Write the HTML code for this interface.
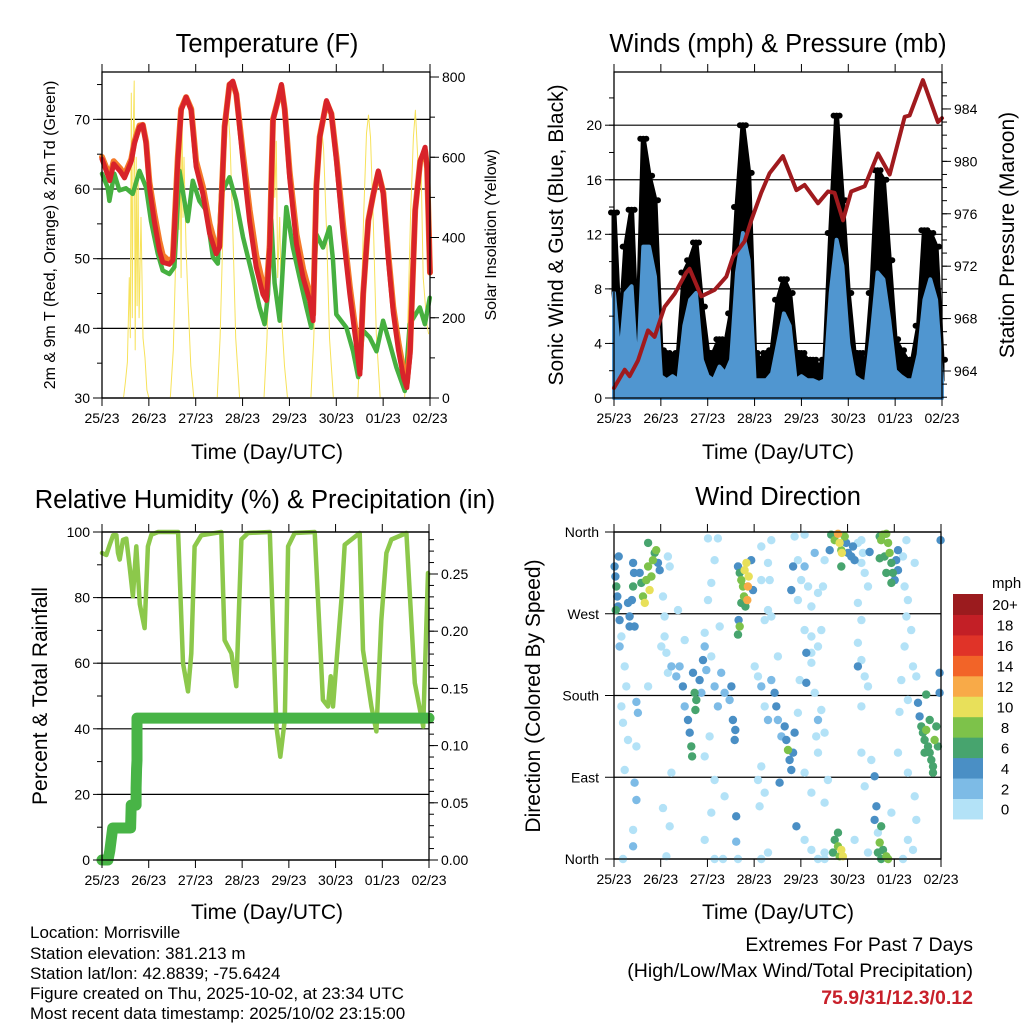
<!DOCTYPE html>
<html><head><meta charset="utf-8"><style>
html,body{margin:0;padding:0;background:#fff;}
svg{display:block;font-family:"Liberation Sans",Arial,sans-serif;}
</style></head><body>
<svg id="fig" width="1024" height="1024" viewBox="0 0 1024 1024" xmlns="http://www.w3.org/2000/svg">
<rect width="1024" height="1024" fill="#fff"/>
<g font-size="25.5" text-anchor="middle" fill="#000">
<text x="267" y="52">Temperature (F)</text>
<text x="778" y="52">Winds (mph) &amp; Pressure (mb)</text>
<text x="265" y="508">Relative Humidity (%) &amp; Precipitation (in)</text>
<text x="778" y="505">Wind Direction</text>
</g>
<g font-size="21" text-anchor="middle" fill="#000">
<text x="267" y="459">Time (Day/UTC)</text>
<text x="778" y="459">Time (Day/UTC)</text>
<text x="267" y="919">Time (Day/UTC)</text>
<text x="778" y="919">Time (Day/UTC)</text>
<text transform="translate(563,235) rotate(-90)">Sonic Wind &amp; Gust (Blue, Black)</text>
<text transform="translate(1014,235) rotate(-90)">Station Pressure (Maroon)</text>
<text transform="translate(47,696) rotate(-90)">Percent &amp; Total Rainfall</text>
<text transform="translate(540,696) rotate(-90)">Direction (Colored By Speed)</text>
</g>
<g font-size="16" text-anchor="middle" fill="#000">
<text transform="translate(55,235) rotate(-90)">2m &amp; 9m T (Red, Orange) &amp; 2m Td (Green)</text>
<text transform="translate(496,235) rotate(-90)">Solar Insolation (Yellow)</text>
</g>
<g font-size="17" fill="#000">
<text x="30" y="938">Location: Morrisville</text>
<text x="30" y="959">Station elevation: 381.213 m</text>
<text x="30" y="979">Station lat/lon: 42.8839; -75.6424</text>
<text x="30" y="999">Figure created on Thu, 2025-10-02, at 23:34 UTC</text>
<text x="30" y="1019">Most recent data timestamp: 2025/10/02 23:15:00</text>
</g>
<g font-size="19.5" text-anchor="end" fill="#000">
<text x="973" y="951">Extremes For Past 7 Days</text>
<text x="973" y="977">(High/Low/Max Wind/Total Precipitation)</text>
<text x="973" y="1004" font-weight="bold" fill="#c8202a">75.9/31/12.3/0.12</text>
</g>
<g id="layer"></g>
</svg>
<script>
// ---------- DATA ----------
const dayLabels = ["25/23","26/23","27/23","28/23","29/23","30/23","01/23","02/23"];
const tempLeftTicks = [30,40,50,60,70];
const solarTicks = [0,200,400,600,800];
const windTicks = [0,4,8,12,16,20];
const pressTicks = [964,968,972,976,980,984];
const rhTicks = [0,20,40,60,80,100];
const precipTicks = [0,0.05,0.10,0.15,0.20,0.25];
const precipTickLabels = ["0.00","0.05","0.10","0.15","0.20","0.25"];
const dirTicks = [0,90,180,270,360];
const dirTickLabels = ["North","East","South","West","North"];

const redHours = [0,4,6,9.5,11.5,13,15,16.6,19.2,20.9,22.6,24.3,26.8,29.4,31.1,34.5,36.3,38.8,40.5,43.1,45.7,48.2,51.7,55.1,58.5,60.2,62.8,65.3,67,68.8,72.2,75.6,79,82.4,84.2,85.9,87.6,90.1,91.9,93.6,96.1,99.6,103,106.4,108.1,109.8,111.5,115,117.5,120.1,123.5,126.9,130.4,132.1,133.8,136.4,139,141.5,144.1,146.7,149.2,151.8,154.4,156.1,157.8,160.4,163,165.5,166.5,168];
const redTemps = [64.3,61.2,63.6,62.5,61.6,62.6,64,66.5,68.9,69.2,66.5,60.3,55.4,51.2,49.5,49.2,49.8,64,71.3,73.2,71.3,63.2,59.3,53.6,50.7,51.6,68.9,75,75.5,73.6,64,55.4,48.8,44.9,44,51.6,69.9,72.7,75,71.3,61.7,52.1,47.3,44,41.1,60.3,67.4,72.7,70.8,64,53.6,44.9,37.3,33.4,44.9,55.4,59.3,62.6,59.3,49.8,42.2,36.9,33,31.5,36.3,56.9,64,66,63,48];
const orangeTemps = [64.6,61.8,64,62.9,62,63,64.3,66.8,69.1,69.2,66.8,61,56.5,52.5,50.5,49.6,50.2,64.5,71.5,73.2,71.5,64,60.3,55,51.5,51.8,69,75,75.3,73.6,65,57,50.5,46.3,45.2,52,70,72.7,74.8,71.5,62.5,53.5,48.5,45,42,60.5,67.5,72.5,70.8,64.5,54.8,46,38.5,34.2,45,55.5,59.3,62.4,59.5,50.5,43,38,34,32.2,37,57,64,65.5,63,48];
const dewHours = [0,2.9,3.8,6.3,8.9,12.3,15.7,19.2,22.6,25.1,28.6,31.1,34.5,37.1,39.7,43.9,46.5,49.9,53.4,56.8,59.3,61,65.3,68.7,72.2,77.3,80.7,83.3,85,86.7,88.4,91,94.4,97.8,101.2,104.7,107.2,109.8,113.2,116.6,118.3,120,125.2,128.6,131.2,133.7,137.1,140.6,144,147.4,150.8,155.1,157.6,162.8,165.4,167.9];
const dewTemps = [62.2,60.2,58.3,62.2,59.8,60.1,59.3,62.6,60.2,55.4,50.7,48.3,47.8,48.8,62.6,55.4,61.2,58.3,56.9,50.2,49.3,59.3,61.7,58.3,53.1,47.3,43.0,40.6,44.9,55.6,46.5,41.1,57.4,51.6,47.3,43.0,40.1,53.5,51.6,54.5,49.8,42.0,40.1,36.7,33.0,39.7,38.7,36.7,41.1,37.8,34.4,31.0,40.6,43.0,40.6,44.4];
const solarHours = [0,11,12,13,14,14.5,15,15.5,16,16.5,17,17.5,18,18.5,19,20,21,22,23,24,35,36.5,37.5,38.5,39.5,40,40.5,41,41.5,42,43,44,45.5,47,59,60.5,62,63.5,64.5,65.5,67,68.5,70.5,83,84.5,86,87,88,88.5,89.3,90,91,92,93.5,95,107,108.5,110,111.5,112.5,113.5,115,116.5,118.5,131,132.5,134,135.5,136.5,137.5,139,140.5,142.5,155,156.5,158,159.5,160.5,161.5,162.5,163.5,164.5,165.5,166.5,167.3];
const solarValues = [0,0,40,90,300,150,760,200,650,790,120,600,230,560,200,450,150,100,20,0,0,120,300,560,420,650,300,720,450,600,380,250,80,0,0,150,420,620,717,650,420,150,0,0,150,430,600,690,500,640,300,450,200,80,0,0,150,420,620,675,620,420,150,0,0,170,450,660,705,650,430,160,0,0,160,450,650,717,620,520,560,300,240,180,160];

const windHours = [0,3,6,9,12,15,18,21,24,27,30,33,36,39,42,45,48,51,54,57,60,63,66,69,72,75,78,81,84,87,90,93,96,99,102,105,108,111,114,117,120,123,126,129,132,135,138,141,144,147,150,153,156,159,162,165,168];
const gustSpeeds = [13.6,4.3,11.1,13.8,3.3,19,16.3,14.5,3.5,3.3,3.1,3.3,9.2,10.1,11.4,6.7,3.3,3.3,4.3,3.8,6.2,14,20,16.5,3.3,2.8,3.3,3.5,7.2,8.7,7.7,3.3,3.3,2.8,2.8,2.3,2.8,12.1,20.7,14.5,7.7,3.3,3.3,2.3,7.7,16.7,16,10.1,4.3,3.5,2.8,2.8,5.3,12.3,12.1,11.1,2.8];
const windSpeeds = [7.7,2.8,7.7,8.2,1.3,11.1,11.1,8.9,1.6,1.3,1.6,1.3,5.3,7.2,7.7,2.8,1.6,1.3,2.3,1.8,2.8,9.2,12.1,10.1,1.3,1.3,1.3,1.8,4,6.2,5.3,1.3,1.6,1.3,1.3,1.1,1.3,7.7,11.6,9.7,4,1.6,1.3,1.1,4.7,9.2,8.7,5.7,2,1.6,1.3,1.3,3.2,7.2,8.7,7.2,1.3];
const pressHours = [0,5.5,8,12.3,17.4,20.8,25.9,31.1,37,38.7,44.7,51.6,57.5,60.9,66.9,70.3,75.4,79.7,86.5,93.4,97.6,104.5,109.6,113,117.3,121.5,128.4,135.2,141.2,148.9,151.4,158.2,165.9,168];
const pressValues = [962.7,964.1,963.6,964.8,967.1,966.6,968.9,969.9,971.5,971.8,969.7,970.2,971.2,972.7,973.9,975.5,977.6,979.1,980.4,977.8,978.2,976.8,977.7,977.6,975.5,977.7,978.1,980.6,979,983.4,983.5,986.2,983,983.3];

const rhHours = [0,2.2,3.9,5.7,7.4,8.2,9.1,10.8,12.5,14.2,15.9,17.6,19.4,21.9,23.6,25.4,28.8,39.1,41.6,44.2,45.9,47.6,51,61.3,63,66.5,69,71.6,75,86.2,89.6,91.6,93.9,95.6,99,109.3,113.5,116.1,117.5,118.7,123,124.7,132.4,134.1,138.4,141,143.5,146.1,148.7,156.4,160.7,165,167.5];
const rhValues = [93.6,93,96,99,99,93.6,91.6,97.6,98,89.5,80.4,95.6,78,70.7,95.6,99.2,100,100,60,51.4,63,95.6,99,100,67,63,53,97.7,99.7,100,40.7,31.5,42.7,95.6,99.7,100,48.8,46.8,56,46.8,79.3,96.1,99.7,64,46.8,39.2,73,93.6,97.7,99.7,54,40.7,87.5];
const precipHours = [0,3.1,4,5.5,14.7,15,17.5,17.5,17.8,18,18,168];
const precipTotals = [0,0,0.008,0.028,0.028,0.048,0.048,0.063,0.08,0.087,0.124,0.124];

const speedBins = [0,2,4,6,8,10,12,14,16,18,20];
const speedBinLabels = ["0","2","4","6","8","10","12","14","16","18","20+"];
const speedColors = ["#b3e2f7","#7dbbe6","#4a8fc5","#47a46e","#7dc24a","#e8e05a","#f8aa48","#f26428","#e03328","#c31f26","#9b1b1e"];
// observations: [hour, direction degrees, speed mph]
const dirObs = [
[0.3,322,4],[0.7,311,4],[1.2,300,6],[1.7,289,4],[2.1,278,4],[0.9,274,6],[2.4,333,4],[2.9,263,4],[7.2,282,4],[8,267,4],[8,256,4],[9.8,326,4],[9.8,300,6],[9.2,285,4],[10.6,256,4],[10.3,315,4],
[13.2,315,4],[14,304,6],[14.9,289,8],[15.8,282,10],[16.6,307,8],[17.5,322,8],[18.3,296,10],[19.2,311,8],[20,329,8],[20.9,337,6],[21.7,340,8],[22.6,326,4],[23.5,318,4],[17.5,348,6],[28.6,322,0],[27.7,333,0],[25.2,289,0],[26,267,0],[32.9,274,0],
[3.8,245,0],[2.9,234,2],[5.5,212,0],[6.3,190,0],[3.8,168,0],[4.6,150,0],[11.5,173,2],[12.3,161,2],[7.2,131,0],[11.5,124,0],[5.5,98,0],[10.6,84,2],[11.5,65,2],[9.8,14,2],[9.8,32,0],[4.6,0,0],[17.5,190,0],[26,245,0],[24.3,234,0],[29.5,212,2],[27.7,205,0],[29.5,95,0],[25.2,56,0],[28.6,36,0],[26.9,3,0],
[32,201,2],[33.7,212,2],[35.4,190,4],[36.3,168,2],[38,153,4],[38.9,139,4],[39.7,124,6],[40.1,113,6],[41.4,183,6],[42.3,175,6],[41.8,164,6],[40.6,205,4],[44,197,4],[45.7,219,4],[46.6,234,2],[44.9,183,2],[47.4,208,2],[50,223,0],[51.7,190,2],[53.4,168,2],[55.1,205,2],[56.8,183,2],[59.4,175,2],[60.3,190,4],[61.1,153,4],[62.3,142,4],[62,131,4],
[49.1,135,0],[46.6,113,0],[51.7,87,0],[56.8,69,0],[51.7,0,0],[56,0,0],[46.6,21,0],[50,51,0],[36.3,241,0],[26.9,227,0],[48.3,353,0],[53.4,353,0],[51.7,329,0],[50,304,0],[48.3,285,0],[54.3,256,0],[46.6,249,0],
[63.7,322,4],[64.6,315,6],[65.4,307,8],[66.3,300,8],[67.1,318,10],[68,326,10],[68.8,300,12],[68.5,285,12],[69.2,311,10],[66.8,289,8],[67.5,278,6],[65.4,282,6],[64,263,4],[64.6,256,8],[63.7,247,6],[70.5,329,4],[71.4,296,4],[62.8,47,4],[62.8,19,2],[63.7,0,0],
[72.3,212,0],[74,201,0],[75.7,190,2],[77.4,168,0],[79.1,153,2],[80.8,197,2],[82.5,183,4],[83.4,168,4],[84.2,153,2],[86,135,2],[87.7,146,4],[88.5,131,4],[89.4,120,8],[90.2,109,4],[91.1,98,4],[92,117,4],[92.8,139,4],[85.1,84,4],
[75.7,102,0],[74,87,0],[77.4,73,0],[74.8,58,0],[79.1,7,0],[75.7,0,0],[77.4,263,0],[80.8,267,0],[75.7,344,0],[79.1,326,0],[80.8,351,0],[75.7,307,0],[80,307,0],[79.1,274,0],[84.2,223,0],
[92.8,355,0],[97.9,357,0],[94.5,329,0],[97.9,322,2],[96.2,307,0],[99.7,300,0],[92,322,4],[91.1,296,4],[94.5,285,0],[101.4,278,0],[104.8,293,0],[107.4,300,0],[108.2,329,0],[103.1,337,2],[97.9,252,0],[101.4,245,0],[106.5,252,0],[104.8,234,0],[101.4,227,0],[98.8,227,4],[95.4,197,0],[98.8,194,4],[101.4,216,0],[103.1,183,0],[104.8,153,2],[103.9,135,0],[106.5,164,0],[108.2,139,0],[94.5,161,0],[104.8,117,0],[97.9,95,0],[101.4,73,0],[108.2,62,0],[109.9,87,0],[93.7,36,4],[97.9,21,0],[101.4,10,0],[104.8,0,0],[108.2,0,0],
[111.6,357,6],[113.4,351,8],[115.1,358,12],[115.9,348,10],[116.8,340,8],[117.1,337,10],[118.5,355,8],[119.3,348,4],[120.2,337,4],[121.9,333,4],[123.6,329,4],[122.8,344,4],[116.8,322,6],[110.8,340,4],[125.3,348,0],[127.1,351,0],[127.9,337,0],[128.8,315,0],[130.5,300,0],[131.3,338,4],[127.1,326,0],[125.3,282,0],[127.1,263,0],[125.3,238,0],[127.1,219,0],[128.8,201,0],[125.3,212,4],[130.5,190,0],[127.1,168,0],[127.1,117,0],[128.8,80,0],[132.2,109,0],[133.9,91,4],[134.8,58,4],[133.9,43,4],[135.6,29,0],[137.3,36,6],[136.5,18,8],[138.2,10,6],[139.9,3,8],[140.8,0,8],[137.3,0,6],[135.6,7,6],[113.4,21,6],[115.1,14,8],[115.9,3,8],[116.8,10,10],[117.6,3,10],[112.5,7,6],[115.1,29,6],[108.2,7,0],[123.6,21,0],[130.5,7,0],
[136.5,355,6],[138.2,357,8],[139.9,358,8],[140.8,348,8],[141.6,337,8],[139,333,6],[137.3,351,8],[142.5,326,6],[143.3,315,6],[144.2,307,4],[145,329,4],[145.9,340,4],[142.5,304,6],[139.9,315,6],[136.5,331,6],[145.9,318,4],[148.5,333,0],[150.2,351,0],[154.5,326,0],[149.3,300,0],[151,285,0],[150.2,267,0],[152.7,252,0],[149.3,234,0],[153.6,212,0],[147.6,197,0],[155.3,201,0],[151,175,0],[146.7,162,0],[145.9,117,0],[151,95,0],[154.5,69,0],[155.3,43,0],[153.6,10,0],[148.5,0,0],[151,21,0],[142.5,51,0],
[156.2,172,4],[157,157,4],[157.9,146,6],[158.7,139,6],[159.6,131,6],[160.4,142,8],[161.3,124,6],[162.2,117,6],[163,109,6],[163.9,102,6],[164.7,131,8],[165.6,146,6],[166.4,124,6],[159.6,117,6],[162.2,153,6],[163.9,95,6],[160.4,181,6],[167.3,183,4],[167.3,205,4],[167.8,351,4]
];

// ---------- LAYOUT ----------
const NS = "http://www.w3.org/2000/svg";
const layer = document.getElementById("layer");
const P1 = {x0:102,x1:430,y0:72,y1:398};
const P2 = {x0:614,x1:942,y0:72,y1:398};
const P3 = {x0:102,x1:429,y0:532,y1:860};
const P4 = {x0:614,x1:941,y0:532,y1:859};
const HOURS = 168;
function xs(p,h){return p.x0 + h/HOURS*(p.x1-p.x0);}
function ys(p,v,lo,hi){return p.y1 - (v-lo)/(hi-lo)*(p.y1-p.y0);}
function node(tag,parent){const e=document.createElementNS(NS,tag);parent.appendChild(e);return e;}
function group(name){const g=node("g",layer);


return g;}
function pathFrom(p,hours,vals,lo,hi){return hours.map((h,i)=>(i?"L":"M")+xs(p,h).toFixed(1)+","+ys(p,vals[i],lo,hi).toFixed(1)).join("");}

const T_LO=30,T_HI=76.8,S_LO=0,S_HI=812.5,W_LO=0,W_HI=23.9,PR_LO=961.94,PR_HI=986.82,RH_LO=0,RH_HI=100,PC_LO=0,PC_HI=0.2867,D_LO=0,D_HI=360;

function grid(p,ticks,lo,hi,name){const g=group(name);
ticks.forEach(t=>{const y=ys(p,t,lo,hi);const l=node("line",g);


l.setAttribute("x1",p.x0);l.setAttribute("x2",p.x1);l.setAttribute("y1",y);l.setAttribute("y2",y);
l.setAttribute("stroke","#000");l.setAttribute("stroke-width","1.2");});}
grid(P1,tempLeftTicks,T_LO,T_HI,"temp-gridlines");
grid(P2,windTicks,W_LO,W_HI,"wind-gridlines");
grid(P3,rhTicks,RH_LO,RH_HI,"humidity-gridlines");
grid(P4,dirTicks,D_LO,D_HI,"direction-gridlines");

function line(g,d,color,w,name){const e=node("path",g);


e.setAttribute("d",d);e.setAttribute("fill","none");e.setAttribute("stroke",color);e.setAttribute("stroke-width",w);e.setAttribute("stroke-linejoin","round");e.setAttribute("stroke-linecap","round");return e;}
const gT=group("temperature-series");
line(gT,pathFrom(P1,solarHours,solarValues,S_LO,S_HI),"#f7e25a",1,"solar-insolation-line");
line(gT,pathFrom(P1,dewHours,dewTemps,T_LO,T_HI),"#46b040",4.5,"dewpoint-line");
line(gT,pathFrom(P1,redHours,orangeTemps,T_LO,T_HI),"#f47a2a",6,"temp-9m-line");
line(gT,pathFrom(P1,redHours,redTemps,T_LO,T_HI),"#d8232a",5,"temp-2m-line");

// ---- Panel 2 series ----
const gW=group("wind-series");
(function(){
  // black gust band between sustained wind and gust
  const top=windHours.map((h,i)=>xs(P2,h).toFixed(1)+","+ys(P2,gustSpeeds[i],W_LO,W_HI).toFixed(1));
  const bot=windHours.map((h,i)=>xs(P2,h).toFixed(1)+","+ys(P2,windSpeeds[i],W_LO,W_HI).toFixed(1)).reverse();
  const e=node("polygon",gW);
  
  
  e.setAttribute("points",top.concat(bot).join(" "));e.setAttribute("fill","#000");e.setAttribute("stroke","#000");e.setAttribute("stroke-width","5");e.setAttribute("stroke-linejoin","round");
  windHours.forEach((h,i)=>{[-3,0,3].forEach(dx=>{const c=node("circle",gW);
    
    
    c.setAttribute("cx",(xs(P2,h)+dx).toFixed(1));c.setAttribute("cy",ys(P2,gustSpeeds[i],W_LO,W_HI).toFixed(1));c.setAttribute("r","3");c.setAttribute("fill","#000");});});
  // blue sustained wind area
  const wtop=windHours.map((h,i)=>xs(P2,h).toFixed(1)+","+ys(P2,windSpeeds[i],W_LO,W_HI).toFixed(1));
  const b=node("polygon",gW);
  
  
  b.setAttribute("points",xs(P2,windHours[0])+","+ys(P2,0,W_LO,W_HI)+" "+wtop.join(" ")+" "+xs(P2,windHours[windHours.length-1])+","+ys(P2,0,W_LO,W_HI));
  b.setAttribute("fill","#5096d0");b.setAttribute("stroke","#5096d0");b.setAttribute("stroke-width","4");b.setAttribute("stroke-linejoin","round");
})();
line(gW,pathFrom(P2,pressHours,pressValues,PR_LO,PR_HI),"#a01a1e",4,"pressure-line");

// ---- Panel 3 series ----
const gR=group("humidity-series");
line(gR,pathFrom(P3,rhHours,rhValues,RH_LO,RH_HI),"#8cc84b",4.5,"relative-humidity-line");
line(gR,pathFrom(P3,precipHours,precipTotals,PC_LO,PC_HI),"#48b446",11,"precipitation-line");

// ---- Panel 4 scatter ----
const gD=group("wind-direction-scatter");
const sorted=dirObs.slice().sort((a,b)=>a[2]-b[2]);
sorted.forEach(o=>{const c=node("circle",gD);


let bi=0;speedBins.forEach((b,k)=>{if(o[2]>=b)bi=k;});
c.setAttribute("cx",xs(P4,o[0]).toFixed(1));c.setAttribute("cy",ys(P4,o[1],D_LO,D_HI).toFixed(1));c.setAttribute("r","4.2");c.setAttribute("fill",speedColors[bi]);});

// ---- frames, ticks, labels ----
function frame(p,name){const r=node("rect",layer);


r.setAttribute("x",p.x0);r.setAttribute("y",p.y0);r.setAttribute("width",p.x1-p.x0);r.setAttribute("height",p.y1-p.y0);r.setAttribute("fill","none");r.setAttribute("stroke","#000");r.setAttribute("stroke-width","1.3");}
function tick(g,x1,y1,x2,y2){const l=node("line",g);


l.setAttribute("x1",x1);l.setAttribute("y1",y1);l.setAttribute("x2",x2);l.setAttribute("y2",y2);l.setAttribute("stroke","#000");l.setAttribute("stroke-width","1");}
function label(g,x,y,txt,anchor,size,name){const t=node("text",g);


t.setAttribute("x",x);t.setAttribute("y",y);t.setAttribute("text-anchor",anchor);t.setAttribute("font-size",size);t.textContent=txt;}
function xAxis(p,name){const g=group(name);
dayLabels.forEach((d,i)=>{const x=xs(p,i*24);tick(g,x,p.y1,x,p.y1+8);tick(g,x,p.y0,x,p.y0-8);
label(g,x,p.y1+25,d,"middle",14,"x-tick-label");});}
function yAxis(p,ticks,labels,lo,hi,side,minorStep,name){const g=group(name);
const xe=side==="left"?p.x0:p.x1;const dir=side==="left"?-1:1;
for(let v=lo - (lo%minorStep); v<=hi+1e-9; v+=minorStep){if(v<lo-1e-9)continue;const y=ys(p,v,lo,hi);tick(g,xe,y,xe+dir*5,y);}
ticks.forEach((t,i)=>{const y=ys(p,t,lo,hi);tick(g,xe,y,xe+dir*9,y);
label(g,xe+dir*12,y+5,labels[i],side==="left"?"end":"start",14,"y-tick-label");});}
[P1,P2,P3,P4].forEach((p,i)=>frame(p,["temp-plot-frame","wind-plot-frame","humidity-plot-frame","direction-plot-frame"][i]));
xAxis(P1,"temp-x-axis");xAxis(P2,"wind-x-axis");xAxis(P3,"humidity-x-axis");xAxis(P4,"direction-x-axis");
yAxis(P1,tempLeftTicks,tempLeftTicks.map(String),T_LO,T_HI,"left",5,"temp-left-axis");
yAxis(P1,solarTicks,solarTicks.map(String),S_LO,S_HI,"right",100,"solar-right-axis");
yAxis(P2,windTicks,windTicks.map(String),W_LO,W_HI,"left",2,"wind-left-axis");
yAxis(P2,pressTicks,pressTicks.map(String),PR_LO,PR_HI,"right",1,"pressure-right-axis");
yAxis(P3,rhTicks,rhTicks.map(String),RH_LO,RH_HI,"left",10,"humidity-left-axis");
yAxis(P3,precipTicks,precipTickLabels,PC_LO,PC_HI,"right",0.01,"precip-right-axis");
(function(){const g=group("direction-left-axis");dirTicks.forEach((t,i)=>{const y=ys(P4,t,D_LO,D_HI);tick(g,P4.x0,y,P4.x0-9,y);
label(g,P4.x0-15,y+5,dirTickLabels[i],"end",14,"direction-tick-label");});})();

// ---- colorbar ----
(function(){const g=group("speed-colorbar");const bx=953,bw=30,top=594,bh=20.45;
label(g,992,588,"mph","start",15,"colorbar-unit");
speedColors.forEach((c,i)=>{const k=speedColors.length-1-i;const r=node("rect",g);


r.setAttribute("x",bx);r.setAttribute("y",top+k*bh);r.setAttribute("width",bw);r.setAttribute("height",bh+0.5);r.setAttribute("fill",c);
label(g,1005,top+k*bh+bh/2+6,speedBinLabels[i],"middle",15,"colorbar-label");});})();
</script>
</body></html>
